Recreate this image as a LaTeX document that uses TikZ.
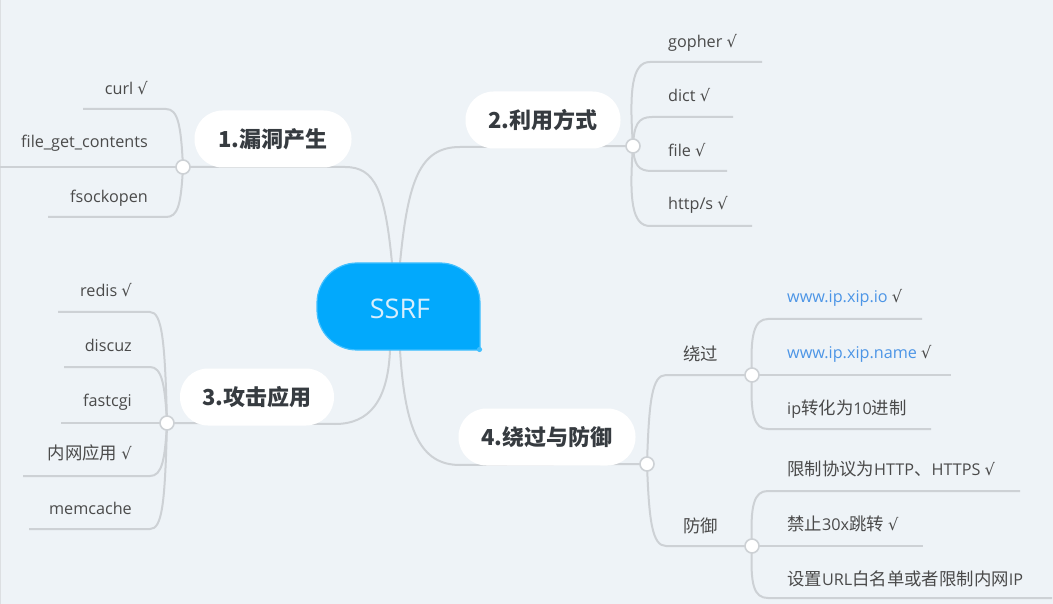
\documentclass[tikz,border=0pt]{standalone}
\usepackage{fontspec}
\setmainfont{Open Sans}
\newfontfamily\cjk{Noto Sans CJK SC}
\newfontfamily\symf{DejaVu Sans}
\definecolor{bg}{HTML}{EEF3F7}
\definecolor{linegray}{HTML}{CDD1D5}
\definecolor{txtgray}{HTML}{4A4A4A}
\definecolor{titlegray}{HTML}{363B40}
\definecolor{hubfill}{HTML}{02A9FC}
\definecolor{hubedge}{HTML}{42C0FF}
\definecolor{hubtxt}{HTML}{D8EEFC}
\definecolor{linkblue}{HTML}{4C95E6}
\newcommand\ok{{\symf √}}
\newcommand\zh[1]{{\cjk\fontsize{17.4}{18}\selectfont #1}}
\begin{document}
\begin{tikzpicture}[x=1pt,y=-1pt,
  conn/.style={draw=linegray, line width=2pt},
  knob/.style={circle, fill=white, draw=linegray, line width=1.6pt, minimum size=14pt, inner sep=0},
  title/.style={fill=white, rounded corners=28pt, inner sep=0, minimum height=57pt,
    font=\cjk\bfseries\fontsize{22}{24}\selectfont, text=titlegray},
  leaf/.style={inner sep=0, font=\fontsize{16.2}{18}\selectfont, text=txtgray},
  leafR/.style={leaf, anchor=base east},
  leafL/.style={leaf, anchor=base west}]
\useasboundingbox (0,0) rectangle (1053,604);
\fill[bg] (0,0) rectangle (1053,604);
\draw[color=linegray!70, line width=0.8pt] (0.5,0) -- (0.5,604);

% hub exit points
\coordinate (h1) at (392,263);
\coordinate (h2) at (400,263);
\coordinate (h3) at (390,350);
\coordinate (h4) at (400,350);

% knobs (positions)
\coordinate (k1) at (183,167);
\coordinate (k2) at (633,146);
\coordinate (k3) at (167,423);
\coordinate (k4) at (647,464);
\coordinate (k5) at (752,375);
\coordinate (k6) at (752,546);

% ---- connectors ----
\draw[conn] (h1) .. controls (385,190) and (375,167) .. (345,167) -- (k1);
\draw[conn] (h2) .. controls (408,180) and (420,147) .. (460,147) -- (k2);
\draw[conn] (h3) .. controls (388,400) and (370,424) .. (335,424) -- (k3);
\draw[conn] (h4) .. controls (405,430) and (420,465) .. (460,465) -- (k4);

% group 1
\coordinate (e11) at (83,109);
\coordinate (e12) at (0,167);
\coordinate (e13) at (48,217);
\draw[conn] (k1) .. controls (181,125) and (178,109) .. (166,109) -- (e11);
\draw[conn] (k1) -- (e12);
\draw[conn] (k1) .. controls (181,205) and (178,217) .. (166,217) -- (e13);

% group 2
\coordinate (e21) at (762,62);
\coordinate (e22) at (733,117);
\coordinate (e23) at (727,171);
\coordinate (e24) at (752,226);
\draw[conn] (k2) .. controls (629,90) and (632,62) .. (650,62) -- (e21);
\draw[conn] (k2) .. controls (634,125) and (638,117) .. (652,117) -- (e22);
\draw[conn] (k2) .. controls (634,165) and (638,171) .. (652,171) -- (e23);
\draw[conn] (k2) .. controls (629,200) and (632,226) .. (650,226) -- (e24);

% group 3
\coordinate (e31) at (58,312);
\coordinate (e32) at (64,367);
\coordinate (e33) at (61,423);
\coordinate (e34) at (23,476);
\coordinate (e35) at (29,529);
\draw[conn] (k3) .. controls (165,340) and (162,312) .. (150,312) -- (e31);
\draw[conn] (k3) .. controls (165,385) and (162,367) .. (150,367) -- (e32);
\draw[conn] (k3) -- (e33);
\draw[conn] (k3) .. controls (165,460) and (162,476) .. (150,476) -- (e34);
\draw[conn] (k3) .. controls (165,505) and (162,529) .. (150,529) -- (e35);

% group 4
\draw[conn] (k4) .. controls (649,400) and (652,375) .. (666,375) -- (k5);
\draw[conn] (k4) .. controls (649,520) and (652,546) .. (666,546) -- (k6);
\coordinate (e51) at (922,319);
\coordinate (e52) at (951,375);
\coordinate (e53) at (931,429);
\coordinate (e61) at (1020,491);
\coordinate (e62) at (923,546);
\coordinate (e63) at (1052,598);
\draw[conn] (k5) .. controls (750,335) and (754,319) .. (768,319) -- (e51);
\draw[conn] (k5) -- (e52);
\draw[conn] (k5) .. controls (750,415) and (754,429) .. (768,429) -- (e53);
\draw[conn] (k6) .. controls (750,505) and (754,491) .. (768,491) -- (e61);
\draw[conn] (k6) -- (e62);
\draw[conn] (k6) .. controls (750,585) and (754,598) .. (768,598) -- (e63);

% ---- hub ----
\path[fill=hubfill, draw=hubedge, line width=1.2pt] (480,306) [rounded corners=40pt] -- (480,263) -- (317,263) -- (317,350) -- (420,350) [sharp corners] -- (480,350) -- cycle;
\fill[hubedge] (479.5,349.5) circle (2.6pt);
\node[inner sep=0, font=\fontsize{27}{30}\selectfont, text=hubtxt] (hub) at (400,309) {SSRF};

% ---- titles ----
\node[title, minimum width=157pt] (t1) at (273,139) {1.漏洞产生};
\node[title, minimum width=155pt] (t2) at (543,120) {2.利用方式};
\node[title, minimum width=154pt] (t3) at (257,397) {3.攻击应用};
\node[title, minimum width=177pt] (t4) at (547,437) {4.绕过与防御};

% ---- knobs ----
\node[knob] (c1) at (k1) {};
\node[knob] (c2) at (k2) {};
\node[knob] (c3) at (k3) {};
\node[knob] (c4) at (k4) {};
\node[knob] (c5) at (k5) {};
\node[knob] (c6) at (k6) {};

% ---- leaves ----
\node[leafR] (l11) at (148,95) {curl \ok};
\node[leafR] (l12) at (148,148) {file\_get\_contents};
\node[leafR] (l13) at (148,203) {fsockopen};

\node[leafL] (l21) at (668,48) {gopher \ok};
\node[leafL] (l22) at (668,102) {dict \ok};
\node[leafL] (l23) at (668,157) {file \ok};
\node[leafL] (l24) at (668,210) {http/s \ok};

\node[leafR] (l31) at (132,297) {redis \ok};
\node[leafR] (l32) at (132,352) {discuz};
\node[leafR] (l33) at (132,406) {fastcgi};
\node[leafR] (l34) at (132,459) {\zh{内网应用} \ok};
\node[leafR] (l35) at (132,514) {memcache};

\node[leafL] (b1) at (683,360) {\zh{绕过}};
\node[leafL] (b2) at (683,532) {\zh{防御}};

\node[leafL] (l51) at (787,303) {\textcolor{linkblue}{www.ip.xip.io} \ok};
\node[leafL] (l52) at (787,358) {\textcolor{linkblue}{www.ip.xip.name} \ok};
\node[leafL] (l53) at (787,414) {ip\zh{转化为}10\zh{进制}};

\node[leafL] (l61) at (787,475) {\zh{限制协议为}HTTP\zh{、}HTTPS \ok};
\node[leafL] (l62) at (787,530) {\zh{禁止}30x\zh{跳转} \ok};
\node[leafL] (l63) at (787,585) {\zh{设置}URL\zh{白名单或者限制内网}IP};
\end{tikzpicture}
\end{document}
